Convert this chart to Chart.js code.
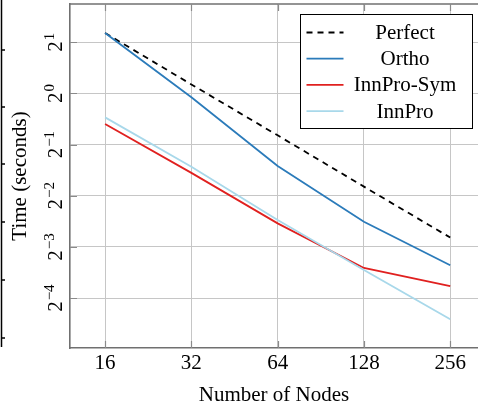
<!DOCTYPE html>
<html>
<head>
<meta charset="utf-8">
<script src="https://cdn.jsdelivr.net/npm/chart.js@4.4.1/dist/chart.umd.min.js"></script>
<style>
  html, body { margin: 0; padding: 0; background: #fff; }
  #wrap { width: 478px; height: 404px; position: relative; }
</style>
</head>
<body>
<div id="wrap"><canvas id="myChart"></canvas></div>
<script>
// values (seconds)
const nodes = [16, 32, 64, 128, 256];
const perfect = [2.27, 1.13, 0.567, 0.283, 0.142];
const ortho = [2.27, 0.949, 0.374, 0.176, 0.0975];
const innProSym = [0.661, 0.341, 0.172, 0.094, 0.0735];
const innPro = [0.723, 0.371, 0.180, 0.0915, 0.047];

// axis ticks (powers of two)
const yTicks = [0.0625, 0.125, 0.25, 0.5, 1, 2];
const yTickExps = ['\u22124', '\u22123', '\u22122', '\u22121', '0', '1'];
const xTicks = [16, 32, 64, 128, 256];

const FONT = "'Liberation Serif', 'DejaVu Serif', serif";

const toPoints = vals => vals.map((v, i) => ({ x: nodes[i], y: v }));

// frame ticks, y labels, top border, legend box
const decor = {
  id: 'decor',
  afterDraw(chart) {
    const ctx = chart.ctx;
    const area = chart.chartArea;
    const xs = chart.scales.x, ys = chart.scales.y;
    ctx.save();

    // leftover frame of the neighbouring figure
    ctx.strokeStyle = '#000';
    ctx.lineWidth = 1.5;
    ctx.beginPath();
    ctx.moveTo(1.5, 0); ctx.lineTo(1.5, 347);
    [50, 107, 164, 222, 280, 338].forEach(t => { ctx.moveTo(1.5, t); ctx.lineTo(5, t); });
    ctx.stroke();

    // top border
    ctx.strokeStyle = '#707070';
    ctx.lineWidth = 1.6;
    ctx.beginPath();
    ctx.moveTo(area.left, area.top); ctx.lineTo(area.right, area.top);
    ctx.stroke();

    // inward tick marks
    ctx.lineWidth = 1.2;
    ctx.strokeStyle = '#8a8a8a';
    ctx.beginPath();
    xTicks.forEach(v => {
      const px = Math.round(xs.getPixelForValue(v)) + 0.5;
      ctx.moveTo(px, area.bottom); ctx.lineTo(px, area.bottom - 7);
      ctx.moveTo(px, area.top); ctx.lineTo(px, area.top + 7);
    });
    yTicks.forEach(v => {
      const py = Math.round(ys.getPixelForValue(v)) + 0.5;
      ctx.moveTo(area.left, py); ctx.lineTo(area.left + 7, py);
    });
    ctx.stroke();

    // y tick labels 2^k, rotated
    ctx.fillStyle = '#000';
    ctx.textBaseline = 'alphabetic';
    ctx.textAlign = 'left';
    yTicks.forEach((v, i) => {
      const py = ys.getPixelForValue(v);
      ctx.save();
      ctx.translate(62, py);
      ctx.rotate(-Math.PI / 2);
      ctx.font = '21px ' + FONT;
      const wb = ctx.measureText('2').width;
      ctx.font = '15px ' + FONT;
      const we = ctx.measureText(yTickExps[i]).width;
      const x0 = -(wb + 1 + we) / 2;
      ctx.font = '21px ' + FONT;
      ctx.fillText('2', x0, 0);
      ctx.font = '15px ' + FONT;
      ctx.fillText(yTickExps[i], x0 + wb + 1, -8.5);
      ctx.restore();
    });

    // legend
    const bx = 300.5, by = 14.5, bw = 172, bh = 114;
    ctx.fillStyle = '#fff';
    ctx.fillRect(bx, by, bw, bh);
    ctx.strokeStyle = '#000';
    ctx.lineWidth = 1;
    ctx.strokeRect(bx, by, bw, bh);
    ctx.font = '21px ' + FONT;
    ctx.textAlign = 'center';
    ctx.textBaseline = 'middle';
    chart.data.datasets.forEach((ds, i) => {
      const ry = by + 18 + i * 26.2;
      ctx.strokeStyle = ds.borderColor;
      ctx.lineWidth = ds.borderWidth;
      ctx.setLineDash(ds.borderDash || []);
      ctx.beginPath();
      ctx.moveTo(bx + 6, ry); ctx.lineTo(bx + 43, ry);
      ctx.stroke();
      ctx.setLineDash([]);
      ctx.fillStyle = '#000';
      ctx.fillText(ds.label, 405, ry + 1);
    });
    ctx.restore();
  }
};

new Chart(document.getElementById('myChart'), {
  type: 'line',
  data: {
    datasets: [
      { label: 'Perfect', data: toPoints(perfect), borderColor: '#000000', borderDash: [6, 5], borderWidth: 1.8, order: 4 },
      { label: 'Ortho', data: toPoints(ortho), borderColor: '#2b7bba', borderWidth: 1.8, order: 3 },
      { label: 'InnPro-Sym', data: toPoints(innProSym), borderColor: '#e0201f', borderWidth: 1.8, order: 2 },
      { label: 'InnPro', data: toPoints(innPro), borderColor: '#a8d8ea', borderWidth: 1.8, order: 1 }
    ]
  },
  options: {
    responsive: true,
    maintainAspectRatio: false,
    animation: false,
    layout: { padding: { top: 4, left: 0, right: 0, bottom: 0 } },
    elements: { point: { radius: 0 }, line: { tension: 0, fill: false } },
    plugins: { legend: { display: false }, tooltip: { enabled: false } },
    scales: {
      x: {
        type: 'logarithmic',
        bounds: 'data',
        min: 12.07,
        max: 320,
        afterBuildTicks: s => { s.ticks = xTicks.map(v => ({ value: v })); },
        afterFit: s => { s.height = 56; },
        grid: { color: '#c6c6c6', lineWidth: 1, drawTicks: false },
        border: { display: true, color: '#707070', width: 1.6 },
        ticks: {
          autoSkip: false, maxRotation: 0, padding: 3, color: '#000',
          font: { family: FONT, size: 21 },
          callback: v => String(v)
        },
        title: {
          display: true, text: 'Number of Nodes', color: '#000',
          font: { family: FONT, size: 21, lineHeight: 0.8 },
          padding: { top: 0, bottom: 0.5 }
        }
      },
      y: {
        type: 'logarithmic',
        bounds: 'data',
        min: 0.0318,
        max: 3.36,
        afterBuildTicks: s => { s.ticks = yTicks.map(v => ({ value: v })); },
        afterFit: s => { s.width = 70; },
        grid: { color: '#c6c6c6', lineWidth: 1, drawTicks: false },
        border: { display: true, color: '#707070', width: 1.6 },
        ticks: { display: false },
        title: {
          display: true, text: 'Time (seconds)', color: '#000',
          font: { family: FONT, size: 21 },
          padding: { top: 8, bottom: 0 }
        }
      }
    }
  },
  plugins: [decor]
});
</script>
</body>
</html>
